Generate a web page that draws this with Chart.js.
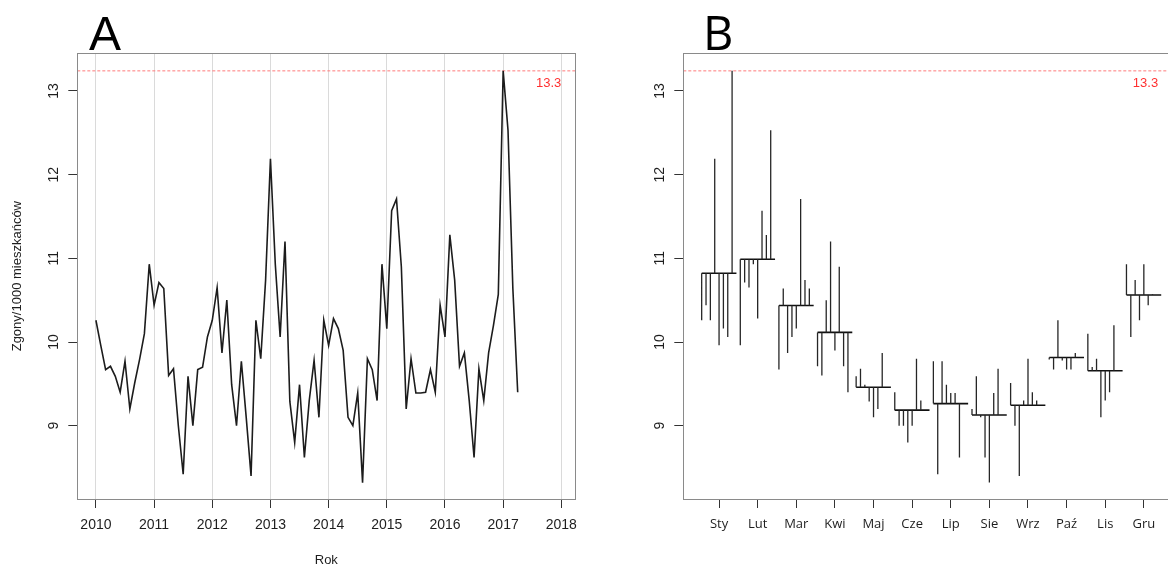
<!DOCTYPE html>
<html><head><meta charset="utf-8">
<script src="https://cdn.jsdelivr.net/npm/chart.js@4.4.1/dist/chart.umd.min.js"></script>
<style>
html,body{margin:0;padding:0;background:#fff;width:1168px;height:566px;overflow:hidden;}
#wrap{position:relative;width:1168px;height:566px;overflow:hidden;background:#fff;}
canvas{position:absolute;top:0;}
#cA{left:0;}
#cB{left:600px;}
</style></head><body>
<div id="wrap"><canvas id="cA" width="600" height="566"></canvas><canvas id="cB" width="600" height="566"></canvas></div>
<script>
// ---- data (deaths per 1000 inhabitants, monthly) ----
const YEARS = [2010, 2011, 2012, 2013, 2014, 2015, 2016, 2017];
const RATE_2010 = [10.26, 9.96, 9.67, 9.71, 9.59, 9.40, 9.77, 9.20, 9.51, 9.79, 10.10, 10.93];
const RATE_2011 = [10.44, 10.71, 10.64, 9.60, 9.68, 9.00, 8.42, 9.59, 9.00, 9.67, 9.70, 10.06];
const RATE_2012 = [10.26, 10.65, 9.87, 10.50, 9.49, 9.00, 9.77, 9.10, 8.40, 10.26, 9.80, 10.74];
const RATE_2013 = [12.19, 10.93, 10.06, 11.20, 9.29, 8.80, 9.49, 8.62, 9.30, 9.78, 9.10, 10.26];
const RATE_2014 = [9.96, 10.28, 10.16, 9.90, 9.10, 9.00, 9.39, 8.32, 9.80, 9.67, 9.30, 10.93];
const RATE_2015 = [10.16, 11.57, 11.71, 10.90, 9.20, 9.80, 9.39, 9.39, 9.40, 9.67, 9.40, 10.44];
const RATE_2016 = [10.06, 11.28, 10.74, 9.71, 9.87, 9.30, 8.62, 9.68, 9.30, 9.87, 10.20, 10.57];
const RATE_2017 = [13.24, 12.53, 10.64, 9.40];
const MONTHS = ['Sty', 'Lut', 'Mar', 'Kwi', 'Maj', 'Cze', 'Lip', 'Sie', 'Wrz', 'Paź', 'Lis', 'Gru'];
const YEAR_TICKS = [2010, 2011, 2012, 2013, 2014, 2015, 2016, 2017, 2018];
const Y_TICKS = [9, 10, 11, 12, 13];
const MAX_LABEL = '13.3';
const Y_TITLE = 'Zgony/1000 mieszkańców';
const X_TITLE = 'Rok';

const SERIES = [RATE_2010, RATE_2011, RATE_2012, RATE_2013, RATE_2014, RATE_2015, RATE_2016, RATE_2017];
const MAXV = Math.max(...SERIES.flat());

// ---- geometry / style ----
const Y_MIN = 8.124, Y_MAX = 13.45;
const TICK_FONT = {family: 'Liberation Sans', size: 14};
const TEXT_COL = '#1e1e1e';

function boxPlugin(letter, letterFont, letterX, maxLabelValue) {
  return {
    id: 'boxdeco',
    afterDraw(chart) {
      const {ctx, chartArea: a} = chart;
      ctx.save();
      ctx.strokeStyle = '#8a8a8a';
      ctx.lineWidth = 1;
      ctx.strokeRect(Math.round(a.left) + 0.5, Math.round(a.top) + 0.5,
                     Math.round(a.right - a.left), Math.round(a.bottom - a.top));
      // rotated y tick labels (R style)
      const ys = chart.scales.y;
      ctx.fillStyle = TEXT_COL;
      ctx.font = '14px "Liberation Sans"';
      ctx.textAlign = 'center';
      ctx.textBaseline = 'middle';
      Y_TICKS.forEach(v => {
        ctx.save();
        ctx.translate(a.left - 23, ys.getPixelForValue(v));
        ctx.rotate(-Math.PI / 2);
        ctx.fillText(String(v), 0, 0);
        ctx.restore();
      });
      // max label
      const xs = chart.scales.x;
      ctx.fillStyle = '#ff3030';
      ctx.font = '13px "Liberation Sans"';
      ctx.textAlign = 'right';
      ctx.textBaseline = 'middle';
      ctx.fillText(MAX_LABEL, xs.getPixelForValue(maxLabelValue), ys.getPixelForValue(MAXV) + 13);
      // panel letter
      ctx.fillStyle = '#000';
      ctx.font = letterFont;
      ctx.textAlign = 'left';
      ctx.textBaseline = 'alphabetic';
      ctx.fillText(letter, letterX, 50);
      ctx.restore();
    }
  };
}

// ---------- Panel A ----------
const lineA = [];
SERIES.forEach((arr, yi) => arr.forEach((v, m) => lineA.push({x: YEARS[yi] + m / 12, y: v})));
const XA_MIN = 2009.68, XA_MAX = 2018.24;

const titlePluginA = {
  id: 'titlesA',
  afterDraw(chart) {
    const {ctx, chartArea: a} = chart;
    ctx.save();
    ctx.fillStyle = TEXT_COL;
    ctx.font = '13px "Liberation Sans"';
    ctx.textAlign = 'center';
    ctx.textBaseline = 'middle';
    ctx.fillText(X_TITLE, (a.left + a.right) / 2, 560);
    ctx.translate(17, (a.top + a.bottom) / 2);
    ctx.rotate(-Math.PI / 2);
    ctx.fillText(Y_TITLE, 0, 0);
    ctx.restore();
  }
};

new Chart(document.getElementById('cA'), {
  type: 'line',
  data: {
    datasets: [
      {data: lineA, borderColor: '#1c1c1c', borderWidth: 1.6, pointRadius: 0, tension: 0, fill: false},
      {data: [{x: XA_MIN, y: MAXV}, {x: XA_MAX, y: MAXV}], borderColor: '#ff7a7a', borderWidth: 1,
       borderDash: [3, 2], pointRadius: 0, fill: false}
    ]
  },
  options: {
    responsive: false, animation: false, devicePixelRatio: 1,
    layout: {padding: {left: 0, right: 24.7, top: 53.3, bottom: 0}},
    plugins: {legend: {display: false}, tooltip: {enabled: false}},
    scales: {
      x: {
        type: 'linear', min: XA_MIN, max: XA_MAX,
        afterBuildTicks: s => { s.ticks = YEAR_TICKS.map(v => ({value: v})); },
        afterFit: s => { s.height = 67; s.paddingLeft = 0; s.paddingRight = 0; },
        grid: {color: '#dadada', lineWidth: 1, drawOnChartArea: true, drawTicks: true, tickLength: 9, tickColor: '#333'},
        border: {display: false},
        ticks: {font: TICK_FONT, color: TEXT_COL, padding: 9, maxRotation: 0, autoSkip: false, callback: v => String(v)}
      },
      y: {
        type: 'linear', min: Y_MIN, max: Y_MAX,
        afterBuildTicks: s => { s.ticks = Y_TICKS.map(v => ({value: v})); },
        afterFit: s => { s.width = 77.3; },
        grid: {drawOnChartArea: false, drawTicks: true, tickLength: 9, tickColor: '#333'},
        border: {display: false},
        ticks: {display: false}
      }
    }
  },
  plugins: [boxPlugin('A', '48px "Liberation Sans"', 89, 2018), titlePluginA]
});

// ---------- Panel B (month plot) ----------
const STEP = 0.9 / 8;
const stems = [], bases = [];
MONTHS.forEach((name, m) => {
  const vals = SERIES.map(arr => arr[m]).filter(v => v !== undefined);
  const base = vals.reduce((s, v) => s + v, 0) / vals.length;
  const c = m + 1;
  vals.forEach((v, k) => {
    const x = c - 0.45 + k * STEP;
    stems.push({x, y: base}, {x, y: v}, {x, y: null});
  });
  bases.push({x: c - 0.45, y: base}, {x: c + 0.45, y: base}, {x: c + 0.45, y: null});
});
const XB_MIN = 0.074, XB_MAX = 12.926;

new Chart(document.getElementById('cB'), {
  type: 'line',
  data: {
    datasets: [
      {data: stems, borderColor: '#262626', borderWidth: 1.3, pointRadius: 0, tension: 0, spanGaps: false, fill: false},
      {data: bases, borderColor: '#111', borderWidth: 1.6, pointRadius: 0, tension: 0, spanGaps: false, fill: false},
      {data: [{x: XB_MIN, y: MAXV}, {x: XB_MAX, y: MAXV}], borderColor: '#ff7a7a', borderWidth: 1,
       borderDash: [3, 2], pointRadius: 0, fill: false}
    ]
  },
  options: {
    responsive: false, animation: false, devicePixelRatio: 1,
    layout: {padding: {left: 0, right: 20.4, top: 53.3, bottom: 0}},
    plugins: {legend: {display: false}, tooltip: {enabled: false}},
    scales: {
      x: {
        type: 'linear', min: XB_MIN, max: XB_MAX,
        afterBuildTicks: s => { s.ticks = MONTHS.map((n, i) => ({value: i + 1})); },
        afterFit: s => { s.height = 67; s.paddingLeft = 0; s.paddingRight = 0; },
        grid: {drawOnChartArea: false, drawTicks: true, tickLength: 9, tickColor: '#333'},
        border: {display: false},
        ticks: {font: {family: 'Open Sans', size: 13}, color: TEXT_COL, padding: 8, maxRotation: 0, autoSkip: false,
                callback: v => MONTHS[Math.round(v) - 1]}
      },
      y: {
        type: 'linear', min: Y_MIN, max: Y_MAX,
        afterBuildTicks: s => { s.ticks = Y_TICKS.map(v => ({value: v})); },
        afterFit: s => { s.width = 83.3; },
        grid: {drawOnChartArea: false, drawTicks: true, tickLength: 9, tickColor: '#333'},
        border: {display: false},
        ticks: {display: false}
      }
    }
  },
  plugins: [boxPlugin('B', '47px "Open Sans"', 103, 12.37)]
});
</script>
</body></html>
